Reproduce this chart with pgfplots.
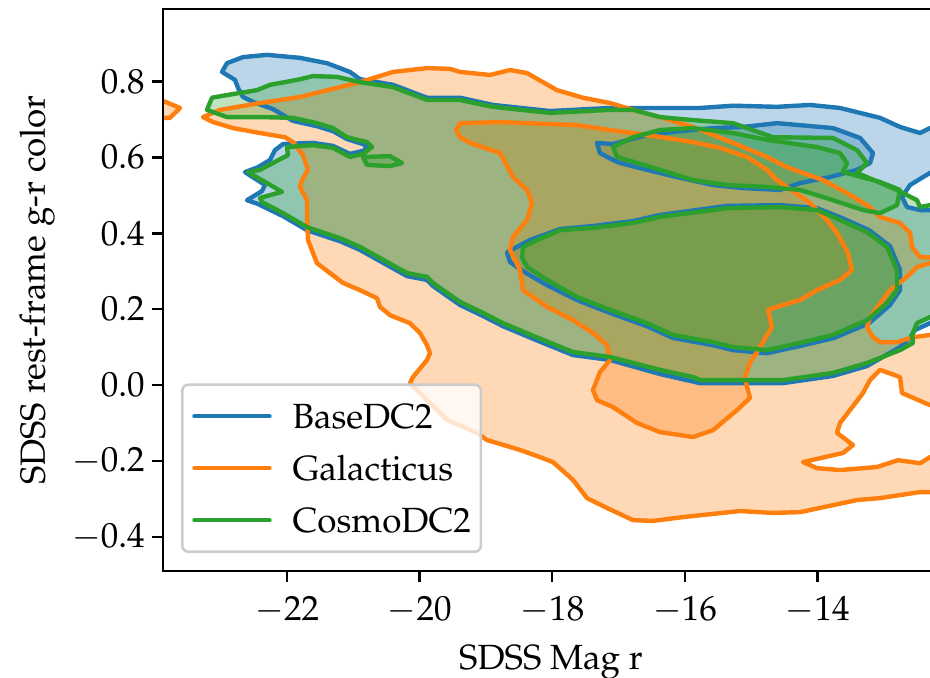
\documentclass[border=0pt]{standalone}
\usepackage[T1]{fontenc}
\usepackage{mathpazo}
\usepackage{pgfplots}
\usepackage{pgfplotstable}
\pgfplotsset{compat=1.18}

\definecolor{cblue}{HTML}{1F77B4}
\definecolor{corange}{HTML}{FF7F0E}
\definecolor{cgreen}{HTML}{2CA02C}
\definecolor{legframe}{HTML}{CCCCCC}

% ---------------- BaseDC2 ----------------
% outer density level
\pgfplotstableread{
x y
-22.980 0.825
-22.905 0.848
-22.664 0.864
-22.302 0.870
-21.804 0.862
-21.397 0.848
-21.050 0.825
-20.899 0.806
-20.401 0.791
-19.888 0.757
-19.391 0.757
-18.893 0.738
-18.033 0.722
-17.128 0.730
-16.781 0.730
-15.771 0.730
-15.273 0.736
-14.609 0.733
-14.112 0.738
-13.659 0.730
-13.056 0.704
-12.754 0.680
-12.452 0.664
-12.302 0.677
-12.000 0.677
-12.000 0.553
-12.302 0.559
-12.603 0.527
-12.724 0.495
-12.649 0.469
-12.452 0.461
-12.302 0.461
-12.000 0.461
-12.000 0.163
-12.302 0.163
-12.528 0.145
-12.603 0.124
-12.754 0.100
-13.252 0.050
-13.765 0.024
-14.519 0.005
-15.273 0.005
-15.771 0.005
-16.374 0.029
-17.128 0.066
-17.686 0.079
-18.139 0.111
-18.742 0.155
-19.044 0.182
-19.391 0.211
-19.798 0.261
-19.888 0.277
-20.190 0.287
-20.899 0.356
-21.201 0.379
-21.698 0.408
-22.060 0.445
-22.437 0.477
-22.603 0.487
-22.377 0.511
-22.332 0.527
-22.633 0.561
-22.437 0.574
-22.256 0.593
-22.181 0.619
-22.060 0.635
-21.608 0.638
-21.306 0.630
-21.050 0.609
-20.854 0.617
-20.779 0.627
-20.854 0.635
-21.095 0.648
-21.306 0.669
-21.548 0.682
-21.910 0.696
-22.211 0.727
-22.513 0.746
-22.664 0.759
-22.739 0.783
-22.784 0.804
}\baseout
% inner level, faint blue sequence
\pgfplotstableread{
x y
-18.682 0.350
-18.335 0.382
-17.882 0.411
-17.385 0.419
-16.781 0.432
-16.374 0.448
-15.363 0.472
-14.564 0.474
-14.006 0.466
-13.629 0.440
-13.221 0.408
-12.905 0.366
-12.754 0.303
-12.754 0.250
-12.905 0.211
-13.221 0.163
-13.750 0.124
-14.262 0.103
-14.760 0.084
-15.273 0.092
-15.575 0.105
-16.178 0.124
-16.570 0.155
-17.128 0.190
-17.626 0.224
-18.109 0.266
-18.440 0.300
-18.636 0.324
}\baselow
% inner level, red sequence
\pgfplotstableread{
x y
-17.324 0.638
-17.083 0.635
-16.570 0.659
-16.178 0.667
-15.575 0.677
-15.122 0.680
-14.609 0.690
-13.765 0.677
-13.357 0.651
-13.161 0.611
-13.207 0.585
-13.403 0.567
-13.810 0.548
-14.262 0.532
-14.564 0.514
-15.122 0.519
-15.575 0.527
-16.118 0.548
-16.570 0.567
-16.977 0.585
-17.083 0.593
-17.279 0.611
}\baseup

% ---------------- Galacticus ----------------
\pgfplotstableread{
x y
-23.267 0.706
-23.011 0.725
-22.407 0.743
-21.804 0.759
-21.201 0.785
-20.899 0.798
-20.401 0.825
-19.888 0.835
-19.541 0.833
-19.391 0.825
-18.938 0.817
-18.636 0.830
-18.380 0.822
-17.928 0.777
-17.535 0.757
-17.128 0.743
-16.781 0.725
-16.374 0.706
-15.876 0.680
-15.273 0.638
-14.760 0.601
-14.458 0.574
-13.916 0.540
-13.554 0.506
-13.207 0.469
-13.056 0.443
-12.754 0.427
-12.603 0.401
-12.573 0.364
-12.452 0.337
-12.000 0.335
-12.000 0.324
-12.302 0.321
-12.498 0.311
-12.649 0.285
-12.905 0.250
-13.207 0.179
-13.252 0.153
-13.161 0.126
-13.056 0.113
-12.800 0.113
-12.558 0.126
-12.302 0.132
-12.000 0.132
-12.000 -0.053
-12.302 -0.053
-12.724 -0.021
-12.754 0.021
-13.056 0.040
-13.207 0.013
-13.312 -0.021
-13.508 -0.066
-13.659 -0.100
-13.705 -0.126
-13.463 -0.158
-13.614 -0.179
-14.217 -0.203
-14.006 -0.219
-13.659 -0.224
-13.101 -0.216
-12.785 -0.198
-12.452 -0.206
-12.302 -0.190
-12.000 -0.190
-12.000 -0.282
-12.452 -0.282
-13.056 -0.298
-13.403 -0.303
-14.262 -0.335
-14.670 -0.337
-15.167 -0.332
-16.027 -0.348
-16.480 -0.358
-16.781 -0.356
-17.173 -0.324
-17.475 -0.298
-17.686 -0.250
-17.988 -0.203
-18.184 -0.190
-18.486 -0.171
-18.983 -0.145
-19.134 -0.126
-19.587 -0.092
-19.888 -0.040
-20.145 0.005
-20.100 0.021
-19.888 0.066
-19.843 0.084
-19.888 0.105
-19.994 0.137
-20.145 0.163
-20.446 0.184
-20.597 0.206
-20.643 0.229
-20.899 0.250
-21.155 0.269
-21.548 0.321
-21.608 0.348
-21.683 0.382
-21.698 0.443
-21.698 0.487
-21.804 0.522
-21.774 0.540
-21.683 0.567
-21.759 0.606
-21.910 0.640
-22.030 0.653
-22.407 0.664
-22.814 0.677
-23.116 0.693
}\galout
\pgfplotstableread{
x y
-19.451 0.672
-19.391 0.690
-18.787 0.693
-18.380 0.690
-17.626 0.685
-17.128 0.672
-16.570 0.659
-15.876 0.640
-15.469 0.625
-15.062 0.601
-14.760 0.567
-14.609 0.540
-14.112 0.480
-13.856 0.435
-13.705 0.401
-13.539 0.348
-13.478 0.303
-13.659 0.277
-14.006 0.250
-14.262 0.224
-14.609 0.206
-14.745 0.198
-14.685 0.153
-14.866 0.100
-15.017 0.058
-15.092 0.021
-15.062 -0.005
-15.017 -0.034
-15.213 -0.066
-15.575 -0.119
-15.876 -0.137
-16.374 -0.124
-16.721 -0.100
-17.083 -0.058
-17.324 -0.040
-17.385 -0.013
-17.279 0.034
-17.128 0.066
-17.173 0.105
-17.385 0.137
-17.686 0.171
-18.078 0.206
-18.440 0.250
-18.486 0.303
-18.636 0.356
-18.591 0.390
-18.380 0.435
-18.305 0.480
-18.380 0.514
-18.591 0.548
-18.787 0.611
-19.240 0.638
-19.391 0.653
}\galin
\pgfplotstableread{
x y
-24.100 0.752
-23.900 0.751
-23.614 0.730
-23.765 0.704
-23.900 0.704
-24.100 0.704
}\galblob

% ---------------- CosmoDC2 ----------------
\pgfplotstableread{
x y
-23.207 0.725
-23.131 0.757
-22.905 0.764
-22.452 0.777
-22.256 0.791
-21.849 0.804
-21.608 0.814
-21.246 0.812
-20.899 0.798
-20.401 0.785
-19.888 0.751
-19.391 0.751
-18.893 0.733
-18.033 0.717
-17.128 0.725
-16.781 0.725
-16.374 0.706
-15.876 0.698
-15.273 0.690
-14.670 0.653
-13.765 0.651
-13.403 0.619
-13.252 0.585
-13.403 0.559
-12.800 0.514
-12.498 0.487
-12.452 0.469
-12.302 0.474
-12.000 0.474
-12.000 0.179
-12.302 0.179
-12.498 0.163
-12.573 0.132
-12.558 0.111
-12.754 0.092
-13.252 0.058
-13.765 0.032
-14.519 0.013
-15.273 0.013
-15.771 0.013
-15.876 0.021
-16.374 0.040
-17.128 0.074
-17.686 0.087
-18.139 0.119
-18.742 0.163
-19.044 0.190
-19.391 0.219
-19.798 0.269
-19.888 0.285
-20.190 0.295
-20.899 0.364
-21.201 0.387
-21.698 0.416
-22.060 0.453
-22.377 0.482
-22.407 0.493
-22.075 0.509
-22.302 0.532
-22.588 0.561
-22.407 0.567
-21.985 0.606
-22.000 0.627
-21.608 0.632
-21.306 0.625
-21.050 0.601
-20.854 0.609
-20.718 0.627
-20.793 0.640
-21.095 0.653
-21.306 0.677
-21.548 0.690
-21.910 0.704
-22.407 0.706
-22.905 0.706
}\cosout
\pgfplotstableread{
x y
-18.440 0.364
-18.229 0.382
-17.882 0.408
-17.385 0.414
-16.781 0.427
-16.374 0.443
-15.363 0.466
-14.564 0.469
-14.006 0.461
-13.659 0.435
-13.252 0.403
-12.950 0.364
-12.800 0.303
-12.800 0.250
-12.950 0.216
-13.252 0.171
-13.765 0.132
-14.262 0.111
-14.760 0.092
-15.273 0.100
-15.575 0.113
-16.178 0.132
-16.570 0.163
-17.128 0.198
-17.626 0.232
-18.078 0.277
-18.380 0.311
-18.455 0.337
}\coslow
\pgfplotstableread{
x y
-17.083 0.627
-16.781 0.653
-16.374 0.672
-15.876 0.677
-15.273 0.664
-14.760 0.646
-14.006 0.627
-13.659 0.611
-13.554 0.585
-13.614 0.561
-13.056 0.535
-12.754 0.514
-12.800 0.474
-13.056 0.453
-13.312 0.461
-13.765 0.487
-14.262 0.514
-14.760 0.522
-15.363 0.527
-15.876 0.540
-16.374 0.567
-16.872 0.593
-17.023 0.601
}\cosup
\pgfplotstableread{
x y
-20.854 0.601
-20.446 0.603
-20.265 0.585
-20.446 0.577
-20.793 0.580
}\cosisle

\begin{document}
\begin{tikzpicture}[font=\fontsize{17.5}{21}\selectfont]
\begin{axis}[
  name=ax,
  scale only axis,
  width=388pt, height=281pt,
  xmin=-23.870, xmax=-12.166,
  ymin=-0.490, ymax=0.9908,
  axis on top,
  xtick={-22,-20,-18,-16,-14},
  ytick={-0.4,-0.2,0,0.2,0.4,0.6,0.8},
  yticklabel style={/pgf/number format/.cd, fixed, fixed zerofill, precision=1},
  xticklabel style={yshift=-3.5pt},
  tick align=outside,
  xtick pos=bottom, ytick pos=left,
  major tick length=5.6pt,
  every tick/.style={black, line width=1.28pt},
  axis line style={line width=1.28pt},
  xlabel={SDSS Mag r},
  ylabel={SDSS rest-frame g-r color},
  xlabel style={at={(axis description cs:0.5,-0.1744)}, anchor=base},
  ylabel style={at={(axis description cs:-0.1521,0.5)}, anchor=base},
  no markers,
  legend cell align=left,
  legend image code/.code={\draw[#1] (0pt,0pt) -- (37.5pt,0pt);},
  legend style={at={(axis description cs:0.0232,0.032)}, anchor=south west,
    draw=legframe, line width=1.28pt, rounded corners=3pt,
    fill=white, fill opacity=0.8, text opacity=1,
    inner xsep=5pt, inner ysep=5.75pt, row sep=6pt, column sep=10.5pt,
    nodes={inner sep=0pt, text height=16pt, text depth=4pt}},
]
% filled density levels
\addplot[forget plot, draw=none, fill=cblue, fill opacity=0.3] table {\baseout} -- cycle;
\addplot[forget plot, draw=none, fill=cblue, fill opacity=0.3] table {\baselow} -- cycle;
\addplot[forget plot, draw=none, fill=cblue, fill opacity=0.3] table {\baseup} -- cycle;
\addplot[forget plot, draw=none, fill=corange, fill opacity=0.3] table {\galout} -- cycle;
\addplot[forget plot, draw=none, fill=corange, fill opacity=0.3] table {\galblob} -- cycle;
\addplot[forget plot, draw=none, fill=corange, fill opacity=0.3] table {\galin} -- cycle;
\addplot[forget plot, draw=none, fill=cgreen, fill opacity=0.3] table {\cosout} -- cycle;
\addplot[forget plot, draw=none, fill=cgreen, fill opacity=0.3] table {\cosisle} -- cycle;
\addplot[forget plot, draw=none, fill=cgreen, fill opacity=0.3] table {\coslow} -- cycle;
\addplot[forget plot, draw=none, fill=cgreen, fill opacity=0.3] table {\cosup} -- cycle;
% contour lines
\pgfplotsset{every axis plot/.append style={line width=2.2pt, line join=round, line cap=round}}
\addplot[forget plot, cblue] table {\baseout} -- cycle;
\addplot[forget plot, cblue] table {\baselow} -- cycle;
\addplot[forget plot, cblue] table {\baseup} -- cycle;
\addplot[forget plot, corange] table {\galout} -- cycle;
\addplot[forget plot, corange] table {\galblob} -- cycle;
\addplot[forget plot, corange] table {\galin} -- cycle;
\addplot[forget plot, cgreen] table {\cosout} -- cycle;
\addplot[forget plot, cgreen] table {\cosisle} -- cycle;
\addplot[forget plot, cgreen] table {\coslow} -- cycle;
\addplot[forget plot, cgreen] table {\cosup} -- cycle;
\addlegendimage{cblue, line width=2.2pt}
\addlegendentry{BaseDC2}
\addlegendimage{corange, line width=2.2pt}
\addlegendentry{Galacticus}
\addlegendimage{cgreen, line width=2.2pt}
\addlegendentry{CosmoDC2}
\end{axis}
\pgfresetboundingbox
\useasboundingbox ([xshift=-81.5pt,yshift=-53.5pt]ax.south west) rectangle ([xshift=383.5pt,yshift=4.5pt]ax.north west);
\end{tikzpicture}
\end{document}
